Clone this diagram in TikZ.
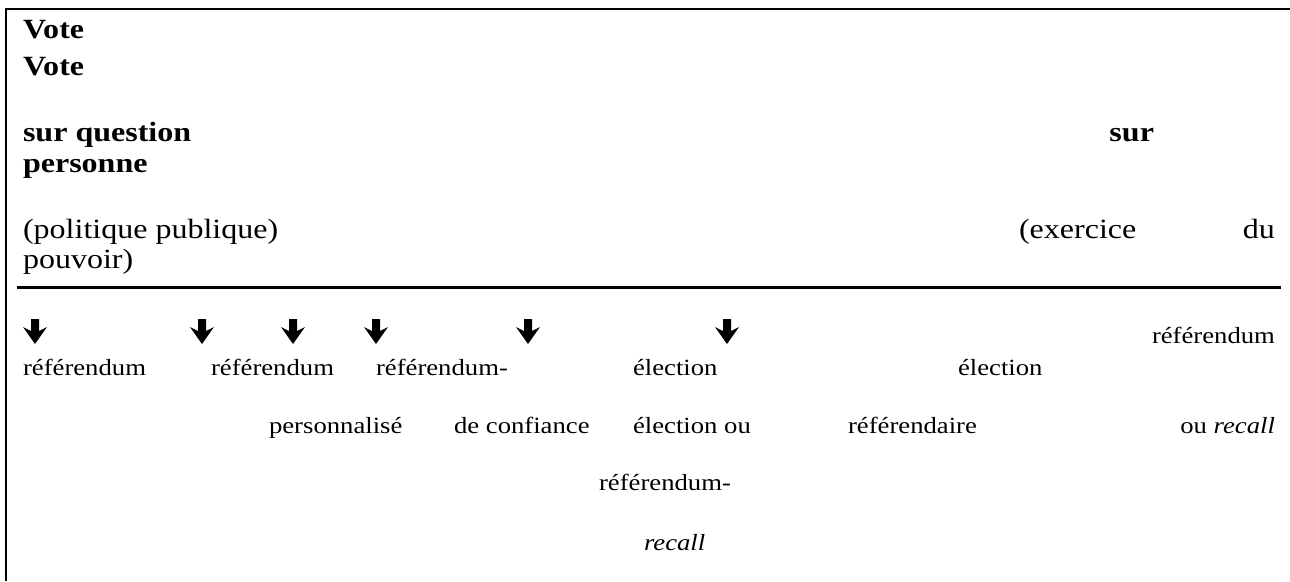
\documentclass[tikz,border=0pt]{standalone}
\usepackage{fontspec}
\setmainfont{Liberation Serif}[FakeStretch=1.15]

\begin{document}
\begin{tikzpicture}[x=.431pt,y=-.431pt,line width=.9pt,
    head/.style={anchor=base west,inner sep=0pt,font=\fontsize{12}{14}\selectfont},
    kind/.style={anchor=base west,inner sep=0pt,font=\fontsize{10}{12}\selectfont}]
    \useasboundingbox (0,0) rectangle (1290,581);
    % frame and rule
    \draw (6,581) -- (6,9) -- (1290,9);
    \draw (17,287.5) -- (1281,287.5);
    % heading
    \node[head] (vote1) at (22,38) {\textbf{Vote}};
    \node[head] (vote2) at (22,75) {\textbf{Vote}};
    \node[head] (surq) at (22,141) {\textbf{sur question}};
    \node[head] (pers) at (22,172) {\textbf{personne}};
    \node[head,anchor=base east] (surp) at (1155,141) {\textbf{sur}};
    \node[head] (polpub) at (22,238) {(politique publique)};
    \node[head] (exer) at (1018,238) {(exercice};
    \node[head,anchor=base east] (du) at (1276,238) {du};
    \node[head] (pouv) at (22,268) {pouvoir)};
    % arrows
    \foreach \x in {35,202,293,376,528,727}{
        \fill (\x-4,319) -- (\x+4,319) -- (\x+4,331) -- (\x+12,327)
            -- (\x,344) -- (\x-12,327) -- (\x-4,331) -- cycle;
    }
    % kinds of vote
    \node[kind] (ref1) at (22,375) {référendum};
    \node[kind] (ref2) at (210,375) {référendum};
    \node[kind] (ref3) at (375,375) {référendum-};
    \node[kind] (elec1) at (632,375) {élection};
    \node[kind] (elec2) at (957,375) {élection};
    \node[kind,anchor=base east] (ref4) at (1276,343) {référendum};
    \node[kind] (perso) at (268,433) {personnalisé};
    \node[kind] (conf) at (453,433) {de confiance};
    \node[kind] (elecou) at (632,433) {élection ou};
    \node[kind] (refdaire) at (847,433) {référendaire};
    \node[kind,anchor=base east] (ourec) at (1276,433) {ou \textit{recall}};
    \node[kind] (ref5) at (598,490) {référendum-};
    \node[kind] (rec) at (643,550) {\textit{recall}};
\end{tikzpicture}
\end{document}
